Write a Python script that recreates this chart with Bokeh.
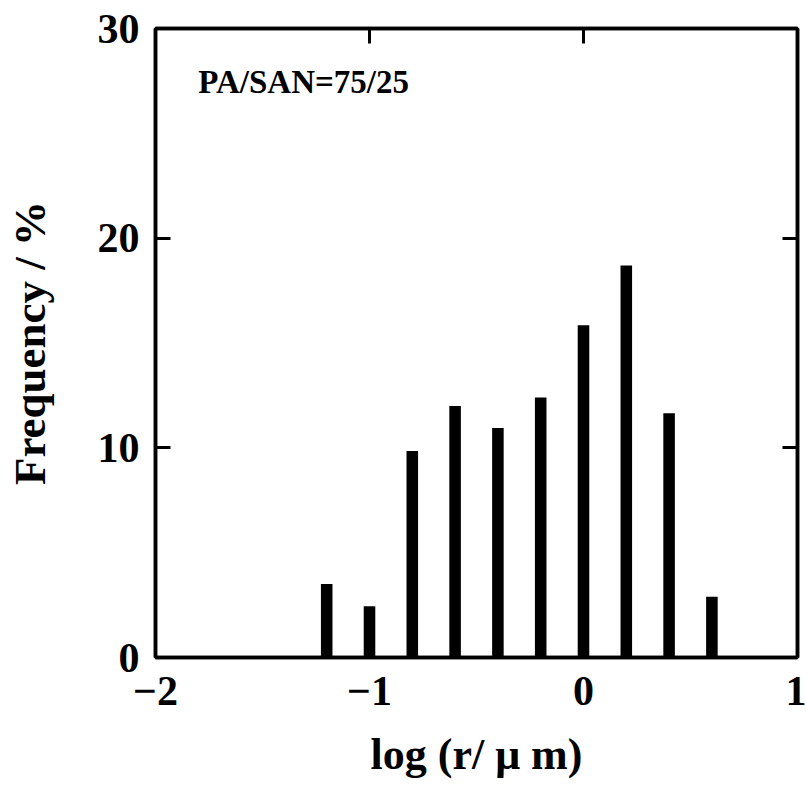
from bokeh.plotting import figure
from bokeh.models import Range1d, FixedTicker, LinearAxis, Label, CustomLabelingPolicy
from bokeh.embed import file_html
from bokeh.resources import INLINE

# Data
log_r = [-1.2, -1.0, -0.8, -0.6, -0.4, -0.2, 0.0, 0.2, 0.4, 0.6]
frequency = [3.5, 2.45, 9.85, 12.0, 10.95, 12.4, 15.85, 18.7, 11.65, 2.9]
x_ticks = [-2, -1, 0, 1]
x_tick_labels = {-2: "\u22122", -1: "\u22121", 0: "0", 1: "1"}
y_ticks = [0, 10, 20, 30]
annotation = "PA/SAN=75/25"

FONT = "Liberation Serif"

p = figure(width=806, height=785, output_backend="svg", toolbar_location=None,
           x_range=Range1d(-2, 1), y_range=Range1d(0, 30),
           min_border_left=155, min_border_right=9, min_border_top=28,
           min_border_bottom=128, x_axis_location=None, y_axis_location=None)
p.grid.visible = False
p.outline_line_color = "black"
p.outline_line_width = 3.5
p.background_fill_color = "white"
p.border_fill_color = "white"

p.vbar(x=log_r, top=frequency, bottom=0, width=0.054, fill_color="black",
       line_color=None)

hide_all = CustomLabelingPolicy(
    code="const n = indices.size; for (let i = 0; i < n; i++) indices.unset(i); return indices;")

def style(ax, show_labels):
    ax.axis_line_width = 3.5
    ax.axis_line_color = "black"
    ax.major_tick_in = 15
    ax.major_tick_out = 0
    ax.major_tick_line_width = 3
    ax.minor_tick_line_color = None
    ax.major_label_text_font = FONT
    ax.major_label_text_font_style = "bold"
    ax.major_label_text_color = "black"
    if show_labels:
        ax.major_label_text_font_size = "42px"
        ax.major_label_standoff = 16
    else:
        ax.major_label_text_font_size = "1px"
        ax.major_label_policy = hide_all
        ax.major_label_standoff = 0
    ax.axis_label_text_font = FONT
    ax.axis_label_text_font_style = "bold"
    ax.axis_label_text_color = "black"

xb = LinearAxis(ticker=FixedTicker(ticks=x_ticks), axis_label="log (r/ \u03bc m)")
xb.major_label_overrides = x_tick_labels
style(xb, True)
xb.major_label_standoff = 19
xb.axis_label_text_font_size = "44px"
xb.axis_label_standoff = 22
p.add_layout(xb, "below")

yl = LinearAxis(ticker=FixedTicker(ticks=y_ticks), axis_label="Frequency / %")
style(yl, True)
yl.axis_label_text_font_size = "45px"
yl.axis_label_standoff = 40
p.add_layout(yl, "left")

xt = LinearAxis(ticker=FixedTicker(ticks=x_ticks))
style(xt, False)
p.add_layout(xt, "above")

yr = LinearAxis(ticker=FixedTicker(ticks=y_ticks))
style(yr, False)
p.add_layout(yr, "right")

p.add_layout(Label(x=-1.8, y=27.45, text=annotation, text_font=FONT,
                   text_font_style="bold", text_font_size="33px",
                   text_color="black", text_baseline="middle"))

open("out.html", "w").write(file_html(p, INLINE))
